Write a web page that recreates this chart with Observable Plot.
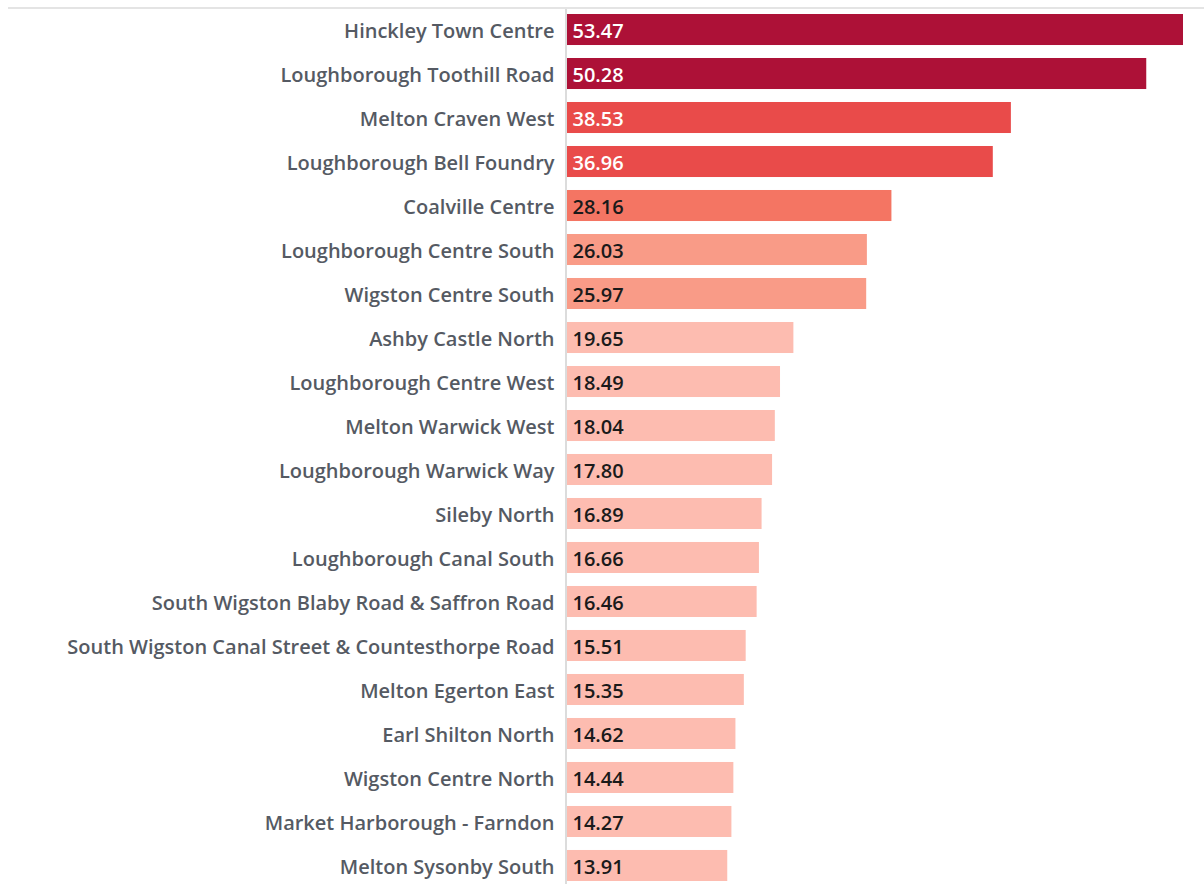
<!DOCTYPE html>
<html>
<head>
<meta charset="utf-8">
<script src="https://cdn.jsdelivr.net/npm/d3@7"></script>
<script src="https://cdn.jsdelivr.net/npm/@observablehq/plot@0.6"></script>
<style>
  html, body { margin: 0; padding: 0; background: #fff; }
  #wrap { position: relative; width: 1204px; height: 884px; overflow: hidden; }
  #topline { position: absolute; left: 8px; top: 7px; width: 1196px; height: 2px; background: #e4e4e4; }
  #chart { position: absolute; left: 0; top: 0; }
</style>
</head>
<body>
<div id="wrap"><div id="chart"></div><div id="topline"></div></div>
<script>
const areas = [
  "Hinckley Town Centre",
  "Loughborough Toothill Road",
  "Melton Craven West",
  "Loughborough Bell Foundry",
  "Coalville Centre",
  "Loughborough Centre South",
  "Wigston Centre South",
  "Ashby Castle North",
  "Loughborough Centre West",
  "Melton Warwick West",
  "Loughborough Warwick Way",
  "Sileby North",
  "Loughborough Canal South",
  "South Wigston Blaby Road & Saffron Road",
  "South Wigston Canal Street & Countesthorpe Road",
  "Melton Egerton East",
  "Earl Shilton North",
  "Wigston Centre North",
  "Market Harborough - Farndon",
  "Melton Sysonby South"
];
const values = [53.47, 50.28, 38.53, 36.96, 28.16, 26.03, 25.97, 19.65, 18.49, 18.04,
                17.80, 16.89, 16.66, 16.46, 15.51, 15.35, 14.62, 14.44, 14.27, 13.91];
const colorThresholds = [20, 27, 33, 45];
const colorRange = ["#fdbcb0", "#f99b87", "#f47563", "#e94b4a", "#ad1137"];

const data = areas.map((a, i) => ({area: a, value: values[i]}));

const chart = Plot.plot({
  width: 1204,
  height: 884,
  marginLeft: 566,
  marginRight: 20,
  marginTop: 9,
  marginBottom: 0,
  style: {fontFamily: "'Open Sans', sans-serif", background: "#fff"},
  x: {domain: [0, 53.47], range: [567, 1183], axis: null},
  y: {domain: areas, range: [14, 881], paddingInner: 0.295, paddingOuter: 0, round: false, axis: null, label: null},
  color: {type: "threshold", domain: colorThresholds, range: colorRange},
  marks: [
    Plot.ruleX([0], {stroke: "#dcdcdc", strokeWidth: 2, dx: -1.5}),
    Plot.barX(data, {y: "area", x: "value", fill: "value"}),
    Plot.axisY({tickSize: 0, tickPadding: 12, fontSize: 20, fontWeight: 600, fill: "#555a63", label: null, dy: 1.5}),
    Plot.text(data, {
      y: "area", x: 0, text: d => d.value.toFixed(2), textAnchor: "start", dx: 5, dy: 1.5,
      fontSize: 20, fontWeight: 600,
      fill: d => d.value > 33 ? "#ffffff" : "#1a1a1a"
    })
  ]
});
document.getElementById("chart").appendChild(chart);
</script>
</body>
</html>
